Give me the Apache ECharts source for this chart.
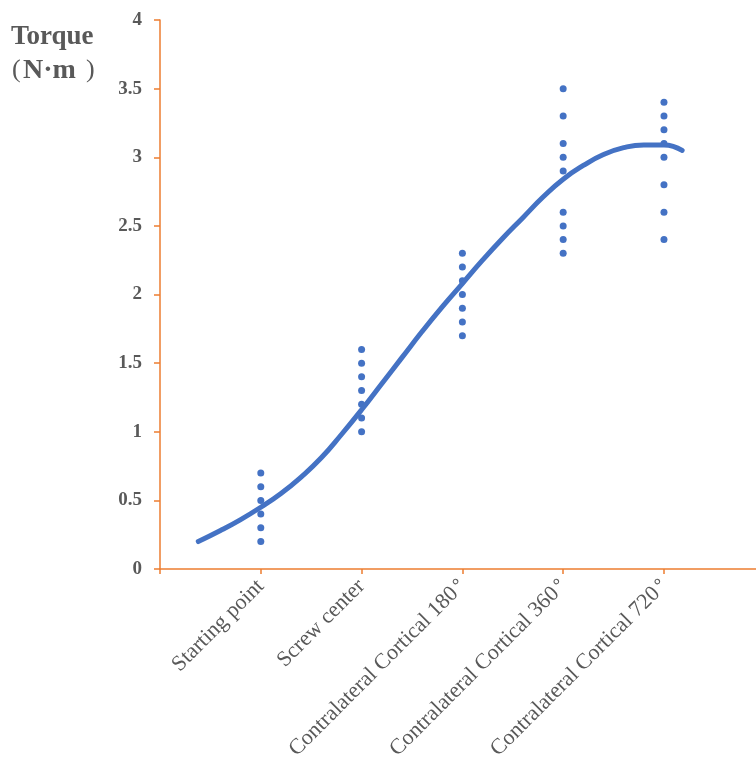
<!DOCTYPE html>
<html>
<head>
<meta charset="utf-8">
<script src="https://cdn.jsdelivr.net/npm/echarts@6/dist/echarts.min.js"></script>
<style>html,body{margin:0;padding:0;background:#fff}#c{width:756px;height:758px}</style>
</head>
<body>
<div id="c"></div>
<script>
var categories = ["Starting point", "Screw center", "Contralateral Cortical 180°", "Contralateral Cortical 360°", "Contralateral Cortical 720°"];
var yTicks = [0, 0.5, 1, 1.5, 2, 2.5, 3, 3.5, 4];
var valuesStart = [0.2, 0.3, 0.4, 0.5, 0.6, 0.7];
var valuesScrew = [1.0, 1.1, 1.2, 1.3, 1.4, 1.5, 1.6];
var values180 = [1.7, 1.8, 1.9, 2.0, 2.1, 2.2, 2.3];
var values360 = [2.3, 2.4, 2.5, 2.6, 2.9, 3.0, 3.1, 3.3, 3.5];
var values720 = [2.4, 2.6, 2.8, 3.0, 3.1, 3.2, 3.3, 3.4];
var trendX = [0.38, 0.6, 0.8, 1.0, 1.2, 1.4, 1.6, 1.8, 2.0, 2.2, 2.4, 2.6, 2.8, 3.0, 3.2, 3.4, 3.6, 3.8, 4.0, 4.2, 4.4, 4.6, 4.8, 5.0, 5.18];
var trendY = [0.20, 0.28, 0.36, 0.45, 0.55, 0.67, 0.81, 0.98, 1.16, 1.35, 1.54, 1.73, 1.91, 2.08, 2.25, 2.41, 2.56, 2.71, 2.84, 2.94, 3.02, 3.07, 3.09, 3.09, 3.05];

var groups = [valuesStart, valuesScrew, values180, values360, values720];
var scatterData = [];
groups.forEach(function (g, i) { g.forEach(function (v) { scatterData.push([i + 1, v]); }); });
var trendData = trendX.map(function (x, i) { return [x, trendY[i]]; });

var chart = echarts.init(document.getElementById('c'), null, {renderer: 'canvas'});
var axisColor = '#ED7D31';
var serif = '"Liberation Serif", "Times New Roman", serif';
var titleColor = '#595959';
chart.setOption({
  animation: false,
  backgroundColor: '#ffffff',
  grid: {left: 160, right: 0, top: 20, bottom: 189, containLabel: false, outerBoundsMode: 'none'},
  graphic: [
    {type: 'text', left: 11, top: 24, style: {text: 'Torque', font: 'bold 27px ' + serif, fill: titleColor}},
    {type: 'text', left: 12, top: 57, style: {text: '(', font: '26px ' + serif, fill: titleColor}},
    {type: 'text', left: 23, top: 57, style: {text: 'N·m', font: 'bold 28px ' + serif, fill: titleColor}},
    {type: 'text', left: 86, top: 57, style: {text: ')', font: '26px ' + serif, fill: titleColor}}
  ],
  xAxis: {
    type: 'value', min: 0, max: 5.913, interval: 1,
    splitLine: {show: false},
    axisLine: {show: true, lineStyle: {color: axisColor, width: 1.5}},
    axisTick: {show: true, length: 5, lineStyle: {color: axisColor, width: 1.5}},
    axisLabel: {
      rotate: 45, margin: 14, color: '#595959',
      fontFamily: serif, fontSize: 22,
      showMaxLabel: false,
      formatter: function (v) {
        var i = Math.round(v) - 1;
        if (!(Math.abs(v - Math.round(v)) < 1e-6 && i >= 0 && i < categories.length)) return '';
        var s = categories[i];
        if (s.slice(-1) === '°') return s.slice(0, -1) + '{d|°}';
        return s;
      },
      rich: {d: {fontFamily: '"Noto Sans CJK SC"', fontSize: 20, color: '#595959', verticalAlign: 'top', padding: [0, 0, 0, 3]}}
    }
  },
  yAxis: {
    type: 'value', min: 0, max: 4, interval: 0.5,
    splitLine: {show: false},
    axisLine: {show: true, lineStyle: {color: axisColor, width: 1.5}},
    axisTick: {show: true, inside: false, length: 6, lineStyle: {color: axisColor, width: 1.5}},
    axisLabel: {
      margin: 18, color: '#595959', fontWeight: 'bold',
      fontFamily: serif, fontSize: 19,
      formatter: function (v) { return yTicks.indexOf(v) >= 0 ? String(v) : ''; }
    }
  },
  series: [
    {
      type: 'scatter', data: scatterData, symbol: 'circle', symbolSize: 7,
      itemStyle: {color: '#4472C4', opacity: 1}, z: 2
    },
    {
      type: 'line', data: trendData, smooth: true, showSymbol: false, symbol: 'none',
      lineStyle: {color: '#4472C4', width: 5, cap: 'round', join: 'round'}, z: 3
    }
  ]
});
</script>
</body>
</html>
